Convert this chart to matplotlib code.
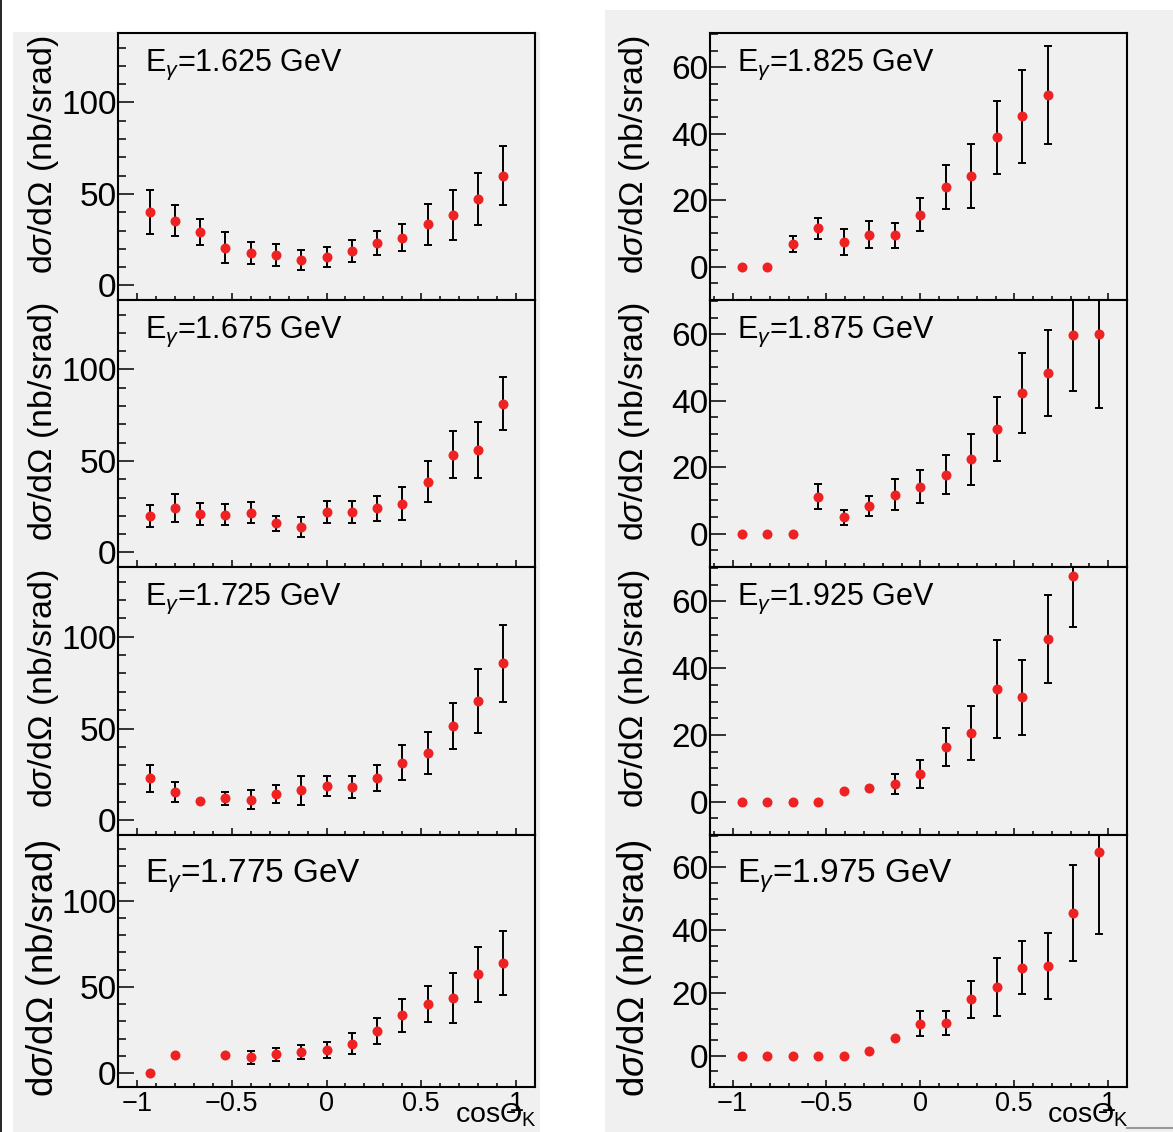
import numpy as np
import matplotlib
matplotlib.use('Agg')
import matplotlib.pyplot as plt
from matplotlib.ticker import MultipleLocator, FuncFormatter
from matplotlib.patches import Rectangle
from matplotlib.lines import Line2D

plt.rcParams['font.family'] = ['Liberation Sans', 'DejaVu Sans']
plt.rcParams['mathtext.fontset'] = 'custom'
plt.rcParams['mathtext.rm'] = 'Liberation Sans'
plt.rcParams['mathtext.it'] = 'Liberation Sans:italic'

nan = np.nan

# cos(theta_K) bin centres
x_left = [-0.933, -0.8, -0.667, -0.533, -0.4, -0.267, -0.133, 0.0,
          0.133, 0.267, 0.4, 0.533, 0.667, 0.8, 0.933]
x_right = [-0.95, -0.814, -0.679, -0.543, -0.407, -0.271, -0.136, 0.0,
           0.136, 0.271, 0.407, 0.543, 0.679, 0.814, 0.95]

energies = ['1.625', '1.675', '1.725', '1.775', '1.825', '1.875', '1.925', '1.975']

y1625 = [40.2, 35.4, 29.2, 20.7, 17.7, 16.4, 13.8, 15.6, 18.6, 23.1, 26.1, 33.3, 38.5, 47.3, 60.0]
e1625 = [12, 8.5, 7, 8.5, 6, 6, 5.4, 5.4, 6, 6.6, 7.5, 11, 13.5, 14.3, 16]

y1675 = [20.1, 24.3, 20.8, 20.7, 21.8, 15.8, 13.8, 22.3, 22.0, 24.0, 26.7, 38.6, 53.5, 56.0, 81.2]
e1675 = [6, 7.5, 6, 5.5, 5.5, 4.2, 5.4, 6, 6, 7, 9, 11.3, 13, 15.5, 14.5]

y1725 = [23.0, 15.3, 10.5, 11.9, 11.3, 14.5, 16.4, 18.5, 18.1, 23.0, 31.4, 36.5, 51.2, 65.2, 85.5]
e1725 = [7.4, 5.4, 0, 3.7, 5, 4.8, 8, 5.4, 6.2, 7.3, 9.7, 11.4, 12.6, 17.5, 21]

y1775 = [0, 10.7, nan, 10.3, 9.3, 10.9, 12.3, 13.3, 17.2, 24.4, 33.5, 40.2, 43.4, 57.4, 63.8]
e1775 = [0, 0, 0, 0, 3.8, 3.8, 3.8, 4.5, 6, 7.3, 9.5, 10.3, 14.6, 16, 18.5]

y1825 = [0, 0, 6.7, 11.6, 7.5, 9.6, 9.4, 15.7, 24.0, 27.3, 38.9, 45.3, 51.6, nan, nan]
e1825 = [0, 0, 2.4, 3.2, 3.9, 4.1, 3.8, 5, 6.7, 9.6, 11, 14, 14.8, 0, 0]

y1875 = [0, 0, 0, 11.2, 4.9, 8.3, 11.8, 14.2, 17.8, 22.4, 31.4, 42.3, 48.3, 59.7, 60.2]
e1875 = [0, 0, 0, 3.8, 2.3, 3, 4.7, 5.1, 5.8, 7.7, 9.6, 12, 13, 16.8, 22.5]

y1925 = [0, 0, 0, 0, 3.2, 4.0, 5.4, 8.3, 16.4, 20.6, 33.8, 31.3, 48.7, 67.6, nan]
e1925 = [0, 0, 0, 0, 0, 0, 3, 4.1, 5.8, 8, 14.7, 11.2, 13.1, 15.4, 0]

y1975 = [0, 0, 0, 0, 0, 1.4, 5.5, 10.2, 10.3, 17.9, 21.8, 28.0, 28.5, 45.4, 64.8]
e1975 = [0, 0, 0, 0, 0, 0, 0, 4.1, 3.8, 5.8, 9.2, 8.5, 10.5, 15.3, 26]

values = [y1625, y1675, y1725, y1775, y1825, y1875, y1925, y1975]
errors = [e1625, e1675, e1725, e1775, e1825, e1875, e1925, e1975]

W, H = 1173, 1132
fig = plt.figure(figsize=(W / 100, H / 100), dpi=100, facecolor='white')

bg = '#f0f0f0'
fig.add_artist(Rectangle((13 / W, 0), 527 / W, (H - 32) / H, transform=fig.transFigure,
                         facecolor=bg, edgecolor='none', zorder=-5))
fig.add_artist(Rectangle((605 / W, 0), 568 / W, (H - 10) / H, transform=fig.transFigure,
                         facecolor=bg, edgecolor='none', zorder=-5))
fig.add_artist(Line2D([1 / W, 1 / W], [0, 1], transform=fig.transFigure, color='black', lw=1.2))
fig.add_artist(Line2D([1127 / W, 1], [1 - 1128 / H, 1 - 1128 / H], transform=fig.transFigure,
                      color='#9a9a9a', lw=1.5))

# pixel layout of the pads (top, bottom)
rows = [(33, 300), (300, 567), (567, 835), (835, 1087)]
cols = [118, 710]
pw = 417

fmt = FuncFormatter(lambda v, p: ('%g' % v).replace('-', '\u2212'))

for k in range(8):
    c = k // 4
    r = k % 4
    top, bot = rows[r]
    ax = fig.add_axes([cols[c] / W, 1 - bot / H, pw / W, (bot - top) / H])
    ax.set_facecolor(bg)
    for s in ax.spines.values():
        s.set_linewidth(1.5)

    xs = np.array(x_left if c == 0 else x_right)
    ys = np.array(values[k], dtype=float)
    es = np.array(errors[k], dtype=float)
    m = es > 0
    ax.errorbar(xs[m], ys[m], yerr=es[m], fmt='none', ecolor='black', elinewidth=1.4,
                capsize=2.6, capthick=1.4, zorder=2)
    ax.plot(xs, ys, 'o', color='#ee2222', markersize=7.2, markeredgewidth=0, zorder=3)

    if c == 0:
        ax.set_xlim(-1.1, 1.1)
        ax.set_ylim(-8, 138)
        ax.yaxis.set_major_locator(MultipleLocator(50))
        ax.yaxis.set_minor_locator(MultipleLocator(10))
    else:
        ax.set_xlim(-1.12, 1.1)
        ax.set_ylim(-10, 70.3)
        ax.yaxis.set_major_locator(MultipleLocator(20))
        ax.yaxis.set_minor_locator(MultipleLocator(5))
    ax.xaxis.set_major_locator(MultipleLocator(0.5))
    ax.xaxis.set_minor_locator(MultipleLocator(0.1))
    ax.xaxis.set_major_formatter(fmt)
    ax.yaxis.set_major_formatter(fmt)

    ax.tick_params(axis='y', which='major', direction='in', length=11.5, width=1.1,
                   labelsize=24, pad=1)
    ax.tick_params(axis='y', which='minor', direction='in', length=5.8, width=1.1)
    ax.tick_params(axis='x', which='major', direction='in', length=5, width=1.1,
                   labelsize=19.5, pad=3)
    ax.tick_params(axis='x', which='minor', direction='in', length=2.8, width=1.1)
    if r < 3:
        ax.tick_params(axis='x', labelbottom=False)

    big = (r == 3)
    ax.text(0.065, 0.912 if big else 0.943, r'E$_{\gamma}$=%s GeV' % energies[k],
            transform=ax.transAxes, ha='left', va='top', fontsize=24 if big else 22)

    lx = 44 if c == 0 else 634
    fig.text(lx / W, 1 - (top + (4 if big else 2)) / H, r'd$\sigma$/d$\Omega$ (nb/srad)',
             rotation=90, ha='center', va='top', fontsize=26.5 if big else 24.5)

    if big:
        fig.text((cols[c] + pw + 2) / W, 1 - 1115 / H, r'cos$\Theta_{\mathrm{K}}$',
                 ha='right', va='center', fontsize=20.5)

fig.savefig('out.png', dpi=100, facecolor='white')
